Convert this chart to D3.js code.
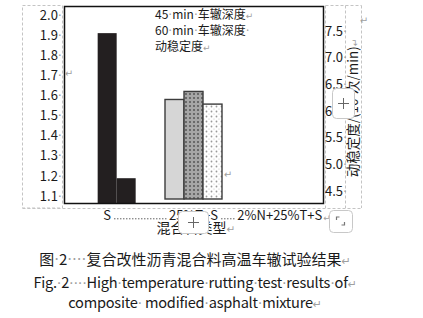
<!DOCTYPE html>
<html>
<head>
<meta charset="utf-8">
<script src="https://cdn.jsdelivr.net/npm/d3@7"></script>
<style>
  body { margin: 0; background: #fff; }
  svg { display: block; }
</style>
</head>
<body>
<div class="chart"></div>
<script>
// values
const categories = ["S", "25%T+S", "2%N+25%T+S"];
const seriesNames = ["45•min•车辙深度↵", "60•min•车辙深度•", "动稳定度↵"];
const depth45 = [null, 1.58, null];   // mm, left axis
const depth60 = [1.91, 1.62, null];   // mm, left axis
const stability = [4.74, 6.13, null]; // right axis
const leftTicks = [1.1, 1.2, 1.3, 1.4, 1.5, 1.6, 1.7, 1.8, 1.9, 2.0];
const rightTicks = [4.5, 5.0, 5.5, 6.0, 6.5, 7.0, 7.5];

const width = 423;
const height = 318;
const font = "'Noto Sans CJK SC', 'Noto Sans', sans-serif";
const markFont = "'DejaVu Sans', sans-serif";
const ink = "#1a1a1a";
const mark = "#a0a0a0";

const svg = d3
  .select(".chart")
  .append("svg")
  .attr("width", width)
  .attr("height", height)
  .style("font-family", font);

const defs = svg.append("defs");
const hatch = defs.append("pattern")
  .attr("id", "hatch")
  .attr("patternUnits", "userSpaceOnUse")
  .attr("width", 4).attr("height", 4);
hatch.append("rect").attr("width", 4).attr("height", 4).attr("fill", "#a6a6a6");
hatch.append("rect").attr("x", 1).attr("y", 1).attr("width", 2).attr("height", 2).attr("fill", "#6a6a6a");

const dots = defs.append("pattern")
  .attr("id", "dots")
  .attr("patternUnits", "userSpaceOnUse")
  .attr("width", 5).attr("height", 5);
dots.append("rect").attr("width", 5).attr("height", 5).attr("fill", "#fff");
dots.append("circle").attr("cx", 1.5).attr("cy", 1.5).attr("r", 0.9).attr("fill", "#9a9a9a");
dots.append("circle").attr("cx", 4).attr("cy", 4).attr("r", 0.6).attr("fill", "#c0c0c0");

// word marks ("•" space, "↵" paragraph) drawn grey, like the Word screenshot
function rich(text, str) {
  str.split(/([•↵])/).forEach((part) => {
    if (!part) return;
    const t = text.append("tspan").text(part === "•" ? "·" : part);
    if (part === "•" || part === "↵") {
      t.attr("fill", mark).attr("font-family", markFont);
      if (part === "↵") t.attr("font-size", "0.75em");
    }
  });
}

// dashed frames of the Word text boxes
const dash = svg.append("g")
  .attr("stroke", "#c4c4c4")
  .attr("stroke-dasharray", "3,2")
  .attr("fill", "none");
dash.append("rect").attr("x", 22.5).attr("y", 5.5).attr("width", 40).attr("height", 202.5);
[325.5, 345.5, 361.5].forEach((x) => {
  dash.append("line").attr("x1", x).attr("x2", x).attr("y1", 5.5).attr("y2", 208);
});
dash.append("line").attr("x1", 22.5).attr("x2", 361.5).attr("y1", 208.5).attr("y2", 208.5);
dash.append("line").attr("x1", 325.5).attr("x2", 361.5).attr("y1", 5.5).attr("y2", 5.5);

const plot = { left: 64, right: 323, top: 6, bottom: 203 };

const x = d3.scaleBand()
  .domain(categories)
  .range([plot.left, plot.right]);
const sub = d3.scaleBand()
  .domain(d3.range(3))
  .range([(x.bandwidth() - 57) / 2, (x.bandwidth() + 57) / 2]);
const yL = d3.scaleLinear().domain([1.065, 2.045]).range([plot.bottom, plot.top]);
const yR = d3.scaleLinear().domain([4.275, 7.97]).range([plot.bottom, plot.top]);

const bars = [];
categories.forEach((c, i) => {
  [depth45[i], depth60[i], stability[i]].forEach((v, s) => {
    if (v == null) return;
    bars.push({ cat: c, ci: i, s: s, value: v, y: s === 2 ? yR(v) : yL(v) });
  });
});

function fillOf(d) {
  if (d.ci === 0) return "#231f20";
  if (d.s === 0) return "#d6d6d6";
  if (d.s === 1) return "url(#hatch)";
  return "url(#dots)";
}

svg.selectAll("rect.bar")
  .data(bars)
  .enter()
  .append("rect")
  .attr("class", "bar")
  .attr("x", (d) => x(d.cat) + sub(d.s))
  .attr("y", (d) => d.y)
  .attr("width", sub.bandwidth())
  .attr("height", (d) => (d.ci === 0 ? plot.bottom : plot.bottom - 4) - d.y)
  .attr("fill", fillOf)
  .attr("stroke", (d) => (d.ci === 0 ? "none" : "#3c3c3c"))
  .attr("stroke-width", 1.4);

// plot frame
svg.append("rect")
  .attr("x", plot.left + 0.5)
  .attr("y", plot.top + 0.5)
  .attr("width", plot.right - plot.left)
  .attr("height", plot.bottom - plot.top)
  .attr("fill", "none")
  .attr("stroke", "#111")
  .attr("stroke-width", 1.5);

// left axis
const gL = svg.append("g")
  .attr("transform", `translate(${plot.left},0)`)
  .call(d3.axisLeft(yL).tickValues(leftTicks).tickSize(0).tickPadding(2).tickFormat(d3.format(".1f")));
gL.select(".domain").remove();
gL.selectAll("text")
  .attr("font-family", font)
  .attr("font-size", 13)
  .attr("fill", ink)
  .append("tspan").attr("fill", mark).attr("font-family", markFont).text("·");

// right axis
const gR = svg.append("g")
  .attr("transform", `translate(${plot.right},0)`)
  .call(d3.axisRight(yR).tickValues(rightTicks).tickSize(0).tickPadding(2).tickFormat(d3.format(".1f")));
gR.select(".domain").remove();
gR.selectAll("text")
  .attr("font-family", font)
  .attr("font-size", 13)
  .attr("fill", ink)
  .append("tspan").attr("fill", mark).attr("font-family", markFont).text("·");

// bottom axis: category labels joined by dotted leaders
const gB = svg.append("g")
  .attr("transform", `translate(0,${plot.bottom})`)
  .call(d3.axisBottom(x).tickSize(0).tickPadding(8));
gB.select(".domain").remove();
gB.selectAll("text")
  .attr("font-family", font)
  .attr("font-size", 13)
  .attr("fill", ink);

const spans = categories.map((c) => {
  const cx = x(c) + x.bandwidth() / 2;
  let w = 0;
  gB.selectAll(".tick text").each(function () {
    if (this.textContent === c) w = this.getComputedTextLength();
  });
  if (!w) w = c.length * 8;
  return { x0: cx - w / 2, x1: cx + w / 2 };
});
const labelY = plot.bottom + 15;
const leaders = svg.append("g").attr("fill", "#8a8a8a");
for (let i = 0; i < spans.length - 1; i++) {
  const a = spans[i].x1 + 3, b = spans[i + 1].x0 - 2;
  leaders.selectAll(null)
    .data(d3.range(a, b, 3))
    .enter()
    .append("rect")
    .attr("x", (d) => d)
    .attr("y", labelY)
    .attr("width", 1.4)
    .attr("height", 1.4);
}
svg.append("text")
  .attr("x", spans[2].x1 + 1)
  .attr("y", labelY)
  .attr("dy", "0.35em")
  .attr("font-family", markFont)
  .attr("font-size", 9)
  .attr("fill", mark)
  .text("↵");

// legend-like text box
const legend = svg.append("g").attr("font-size", 12).attr("fill", ink);
seriesNames.forEach((n, i) => {
  const t = legend.append("text")
    .attr("x", 155)
    .attr("y", 15 + i * 16)
    .attr("dy", "0.35em");
  rich(t, n);
});

// axis titles
const xt = svg.append("text")
  .attr("x", 196)
  .attr("y", 228)
  .attr("dy", "0.35em")
  .attr("text-anchor", "middle")
  .attr("font-size", 14)
  .attr("fill", ink);
rich(xt, "混合料类型↵");

const rt = svg.append("text")
  .attr("transform", "translate(353,108) rotate(-90)")
  .attr("dy", "0.35em")
  .attr("text-anchor", "middle")
  .attr("font-size", 13.5)
  .attr("fill", ink);
rt.append("tspan").text("动稳定度/(10");
rt.append("tspan").attr("font-size", 8).attr("dy", "-0.5em").text("3");
rt.append("tspan").attr("dy", "0.3em").text("次/min)");
rt.append("tspan").attr("fill", mark).attr("font-family", markFont).attr("font-size", 9).text("↵");

// stray paragraph marks
[[69, 73], [228, 174], [364, 20]].forEach(([px, py]) => {
  svg.append("text")
    .attr("x", px).attr("y", py)
    .attr("dy", "0.35em")
    .attr("text-anchor", "middle")
    .attr("font-family", markFont)
    .attr("font-size", 10)
    .attr("fill", mark)
    .text("↵");
});

// caption
const caption = [
  ["图•2••••复合改性沥青混合料高温车辙试验结果↵", 260, 15, 0],
  ["Fig.•2••••High•temperature•rutting•test•results•of↵", 283, 14.6, -0.25],
  ["composite• modified•asphalt•mixture↵", 303, 14.6, -0.25]
];
caption.forEach(([s, cy, fs, ls]) => {
  const t = svg.append("text")
    .attr("x", 195)
    .attr("y", cy)
    .attr("dy", "0.35em")
    .attr("text-anchor", "middle")
    .attr("font-size", fs)
    .attr("letter-spacing", ls)
    .attr("fill", ink);
  rich(t, s);
});

// Word layout buttons sitting on top of the chart
function button(bx, by, bw, bh, kind) {
  const g = svg.append("g");
  g.append("rect")
    .attr("x", bx + 0.5).attr("y", by + 0.5)
    .attr("width", bw).attr("height", bh)
    .attr("rx", 4)
    .attr("fill", "#fff")
    .attr("stroke", "#c8c8c8");
  const cx = bx + bw / 2, cy = by + bh / 2;
  if (kind === "plus") {
    g.append("path")
      .attr("d", `M${cx - 5},${cy + 0.5}H${cx + 6}M${cx + 0.5},${cy - 5}V${cy + 6}`)
      .attr("stroke", "#666")
      .attr("stroke-width", 1);
  } else {
    g.append("path")
      .attr("d", `M${cx - 4},${cy - 1}V${cy - 4}H${cx - 1}M${cx + 4},${cy + 1}V${cy + 4}H${cx + 1}`)
      .attr("stroke", "#777")
      .attr("fill", "none")
      .attr("stroke-width", 1.2);
  }
}
button(332, 88, 22, 30, "plus");
button(178, 211, 30, 22, "plus");
button(329, 210, 23, 22, "resize");
</script>
</body>
</html>
